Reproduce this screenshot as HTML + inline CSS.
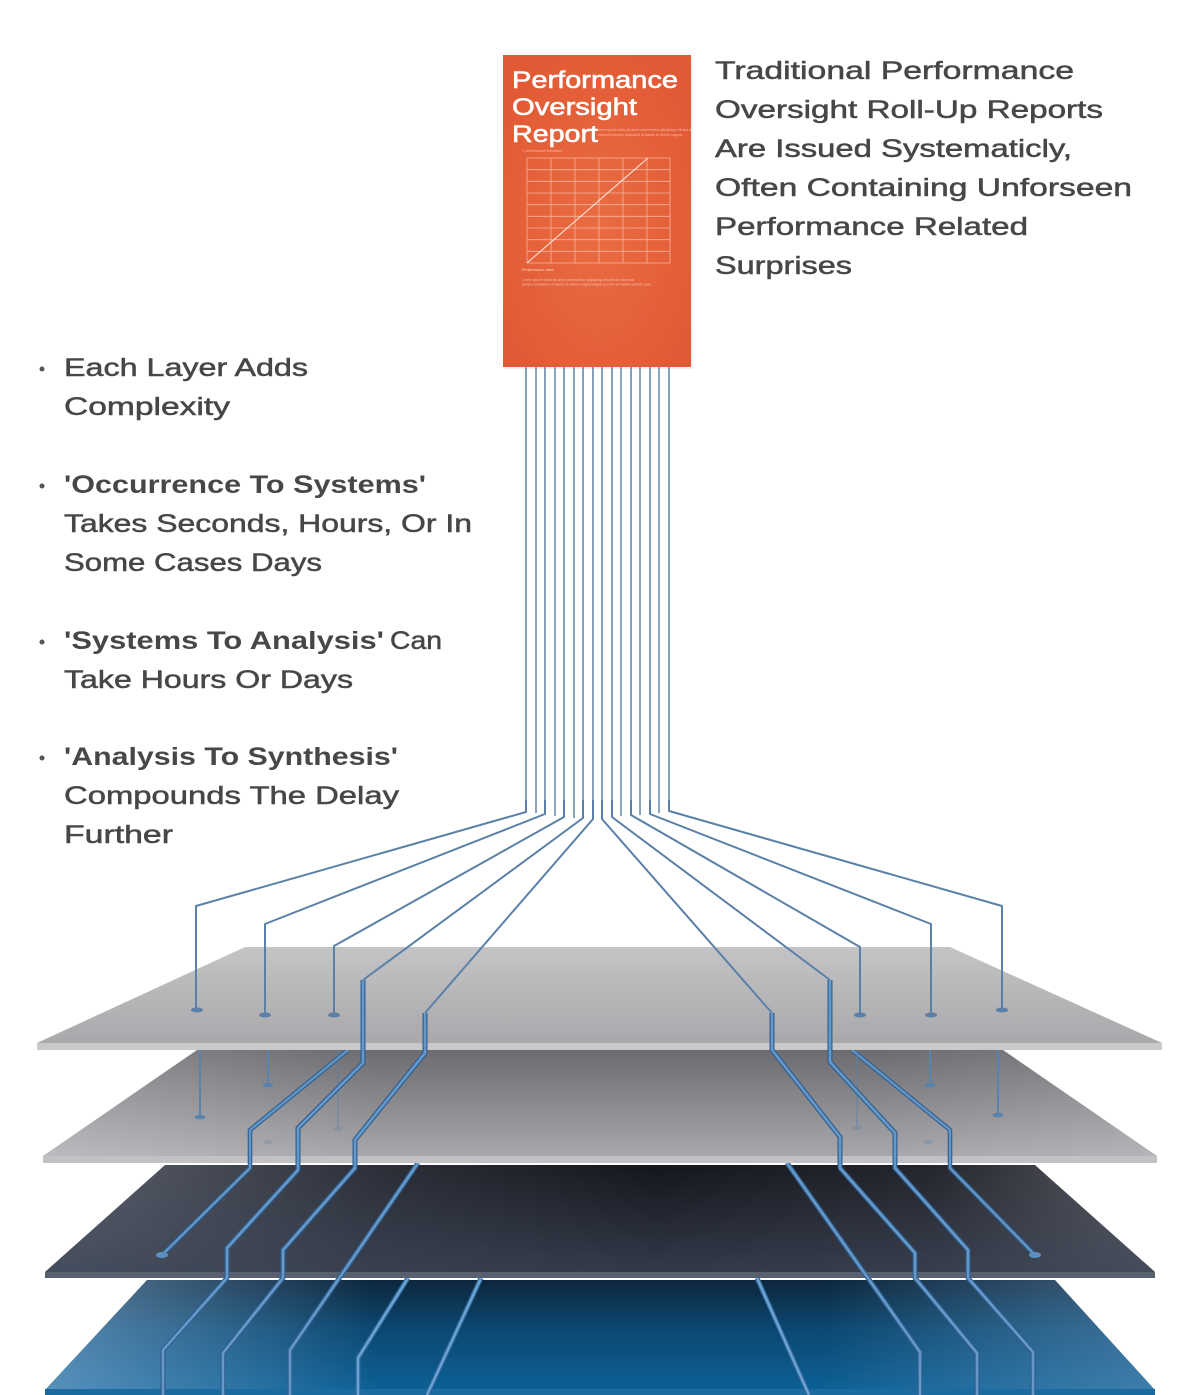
<!DOCTYPE html>
<html><head><meta charset="utf-8"><style>
html,body{margin:0;padding:0;background:#fff;}
svg{display:block;}
.t{font-family:"Liberation Sans",sans-serif;font-size:25px;fill:#474747;stroke:#474747;stroke-width:0.5px;}
.b{font-family:"Liberation Sans",sans-serif;font-size:25px;font-weight:bold;fill:#474747;}
.tiny{font-family:"Liberation Sans",sans-serif;font-size:3.6px;fill:#fff;opacity:.55;}
</style></head><body>
<svg width="1200" height="1395" viewBox="0 0 1200 1395" xmlns="http://www.w3.org/2000/svg">
<defs>
 <linearGradient id="p1" x1="0" y1="0" x2="0" y2="1"><stop offset="0" stop-color="#c4c4c6"/><stop offset="1" stop-color="#a9a9ac"/></linearGradient>
 <linearGradient id="p2" x1="0" y1="0" x2="0" y2="1"><stop offset="0" stop-color="#6c6c70"/><stop offset="1" stop-color="#a8a8ac"/></linearGradient>
 <linearGradient id="p2h" x1="0" y1="0" x2="1" y2="0"><stop offset="0" stop-color="#fff" stop-opacity=".22"/><stop offset=".3" stop-color="#fff" stop-opacity="0"/><stop offset=".75" stop-color="#fff" stop-opacity="0"/><stop offset="1" stop-color="#fff" stop-opacity=".15"/></linearGradient>
 <linearGradient id="p3" x1="0" y1="0" x2="1" y2="0"><stop offset="0" stop-color="#5e636f"/><stop offset=".3" stop-color="#2c2f38"/><stop offset=".55" stop-color="#15161c"/><stop offset=".8" stop-color="#25262d"/><stop offset="1" stop-color="#5d5d63"/></linearGradient>
 <linearGradient id="p3v" x1="0" y1="0" x2="0" y2="1"><stop offset="0" stop-color="#3c4658" stop-opacity="0"/><stop offset="1" stop-color="#3c4658" stop-opacity=".75"/></linearGradient>
 <linearGradient id="p4" x1="0" y1="0" x2="0" y2="1"><stop offset="0" stop-color="#0d263d"/><stop offset=".45" stop-color="#0b4871"/><stop offset="1" stop-color="#0c6096"/></linearGradient>
 <linearGradient id="p4h" x1="0" y1="0" x2="1" y2="0"><stop offset="0" stop-color="#8ab2d6" stop-opacity=".6"/><stop offset=".3" stop-color="#8ab2d6" stop-opacity="0"/><stop offset=".7" stop-color="#8ab2d6" stop-opacity="0"/><stop offset="1" stop-color="#7aa2c8" stop-opacity=".45"/></linearGradient>
 <radialGradient id="rep" cx=".5" cy=".55" r=".6"><stop offset="0" stop-color="#ea6c42"/><stop offset="1" stop-color="#e25a35"/></radialGradient>
</defs>
<rect width="1200" height="1395" fill="#fff"/>

<!-- Right text -->
<text class="t" x="715" y="79" textLength="359" lengthAdjust="spacingAndGlyphs">Traditional Performance</text>
<text class="t" x="715" y="118" textLength="388" lengthAdjust="spacingAndGlyphs">Oversight Roll-Up Reports</text>
<text class="t" x="715" y="157" textLength="357" lengthAdjust="spacingAndGlyphs">Are Issued Systematicly,</text>
<text class="t" x="715" y="196" textLength="417" lengthAdjust="spacingAndGlyphs">Often Containing Unforseen</text>
<text class="t" x="715" y="235" textLength="313" lengthAdjust="spacingAndGlyphs">Performance Related</text>
<text class="t" x="715" y="274" textLength="137" lengthAdjust="spacingAndGlyphs">Surprises</text>

<!-- Left bullets -->
<g fill="#555"><circle cx="42" cy="369" r="2.5"/><circle cx="42" cy="486" r="2.5"/><circle cx="42" cy="642" r="2.5"/><circle cx="42" cy="758" r="2.5"/></g>
<text class="t" x="64" y="376" textLength="244" lengthAdjust="spacingAndGlyphs">Each Layer Adds</text>
<text class="t" x="64" y="415" textLength="166" lengthAdjust="spacingAndGlyphs">Complexity</text>
<text class="b" x="64" y="493" textLength="362" lengthAdjust="spacingAndGlyphs">'Occurrence To Systems'</text>
<text class="t" x="64" y="532" textLength="408" lengthAdjust="spacingAndGlyphs">Takes Seconds, Hours, Or In</text>
<text class="t" x="64" y="571" textLength="258" lengthAdjust="spacingAndGlyphs">Some Cases Days</text>
<text class="b" x="64" y="649" textLength="320" lengthAdjust="spacingAndGlyphs">'Systems To Analysis'</text>
<text class="t" x="390" y="649" textLength="52" lengthAdjust="spacingAndGlyphs">Can</text>
<text class="t" x="64" y="688" textLength="289" lengthAdjust="spacingAndGlyphs">Take Hours Or Days</text>
<text class="b" x="64" y="765" textLength="334" lengthAdjust="spacingAndGlyphs">'Analysis To Synthesis'</text>
<text class="t" x="64" y="804" textLength="335" lengthAdjust="spacingAndGlyphs">Compounds The Delay</text>
<text class="t" x="64" y="843" textLength="109" lengthAdjust="spacingAndGlyphs">Further</text>

<!-- Report -->
<rect x="505" y="57" width="188" height="312" fill="#000" opacity=".06"/>
<rect x="503" y="55" width="188" height="312" fill="url(#rep)"/>
<g stroke="#fff" stroke-width=".8" opacity=".5" fill="none">
 <rect x="527" y="158" width="143" height="105"/>
 <path d="M551 158V263M575 158V263M599 158V263M623 158V263M647 158V263"/>
 <path d="M527 169.7H670M527 181.3H670M527 193H670M527 204.7H670M527 216.3H670M527 228H670M527 239.7H670M527 251.3H670"/>
</g>
<path d="M527 263L648 158" stroke="#fff" stroke-width="1.1" opacity=".8"/>
<text class="tiny" x="596" y="131">Lorem ipsum dolor sit amet consectetur adipiscing elit sed do</text>
<text class="tiny" x="598" y="136">eiusmod tempor incididunt ut labore et dolore magna</text>
<text class="tiny" x="522" y="152">Y  performance indicators</text>
<text class="tiny" x="522" y="271" style="font-weight:bold">Performance value</text>
<text class="tiny" x="522" y="281">Lorem ipsum dolor sit amet consectetur adipiscing elit sed do eiusmod</text>
<text class="tiny" x="522" y="285.5">tempor incididunt ut labore et dolore magna aliqua ut enim ad minim veniam quis</text>
<text x="512" y="88" font-family="Liberation Sans, sans-serif" font-size="24" fill="#fff" stroke="#fff" stroke-width=".6" textLength="166" lengthAdjust="spacingAndGlyphs">Performance</text>
<text x="512" y="115" font-family="Liberation Sans, sans-serif" font-size="24" fill="#fff" stroke="#fff" stroke-width=".6" textLength="125" lengthAdjust="spacingAndGlyphs">Oversight</text>
<text x="512" y="142" font-family="Liberation Sans, sans-serif" font-size="24" fill="#fff" stroke="#fff" stroke-width=".6" textLength="86" lengthAdjust="spacingAndGlyphs">Report</text>

<!-- Report verticals -->
<g stroke="#8aa3be" stroke-width="2" fill="none">
 <path d="M536 367V813M555 367V816M574 367V818M621 367V816M640 367V815M659 367V813"/>
</g>

<!-- Plate 4 -->
<polygon points="147,1280 1055,1280 1155,1390 45,1390" fill="url(#p4)"/>
<polygon points="147,1280 1055,1280 1155,1390 45,1390" fill="url(#p4h)"/>
<rect x="45" y="1389" width="1110" height="6" fill="#1b6aa0"/>
<g fill="none" stroke-linejoin="round">
 <path d="M408 1278L358 1358V1395M481 1278L427 1395M757 1278L809 1395" stroke="#2f6596" stroke-width="5"/>
 <path d="M408 1278L358 1358V1395M481 1278L427 1395M757 1278L809 1395" stroke="#6aa2d4" stroke-width="2.6"/>
</g>

<!-- Plate 3 -->
<polygon points="165,1165 1035,1165 1155,1272 45,1272" fill="url(#p3)"/>
<polygon points="165,1165 1035,1165 1155,1272 45,1272" fill="url(#p3v)"/>
<rect x="45" y="1272" width="1110" height="6" fill="#586070"/>
<g fill="none" stroke-linejoin="round">
 <path d="M418 1163L290 1350V1395M787 1163L920 1352V1395" stroke="#2f6090" stroke-width="5"/>
 <path d="M418 1163L290 1350V1395M787 1163L920 1352V1395" stroke="#6598c8" stroke-width="2.6"/>
</g>

<!-- Plate 2 -->
<polygon points="197,1050 1003,1050 1157,1156 43,1156" fill="url(#p2)"/>
<polygon points="197,1050 1003,1050 1157,1156 43,1156" fill="url(#p2h)"/>
<rect x="43" y="1156" width="1114" height="7" fill="#c2c2c6"/>
<g fill="none" stroke-linejoin="round">
 <path d="M348 1050L250 1130V1168L162 1255M852 1050L950 1130V1168L1035 1255" stroke="#305f8e" stroke-width="4.6"/>
 <path d="M348 1050L250 1130V1168L162 1255M852 1050L950 1130V1168L1035 1255" stroke="#6396c6" stroke-width="2.3"/>
</g>
<ellipse cx="162" cy="1255" rx="6" ry="3" fill="#5d8fc0"/>
<ellipse cx="1035" cy="1255" rx="6" ry="3" fill="#5d8fc0"/>
<g stroke="#5a82aa" stroke-width="2" fill="none">
 <path d="M200 1048V1116M268 1048V1084M930 1048V1084M998 1048V1114"/>
 <path d="M338 1048V1128M857 1048V1127" opacity=".4"/>
</g>
<g fill="#5a82aa">
 <ellipse cx="200" cy="1117" rx="5.5" ry="2.3"/><ellipse cx="268" cy="1085" rx="5.5" ry="2.3"/>
 <ellipse cx="930" cy="1085" rx="5.5" ry="2.3"/><ellipse cx="998" cy="1115" rx="5.5" ry="2.3"/>
 <ellipse cx="338" cy="1129" rx="5" ry="2" opacity=".35"/><ellipse cx="857" cy="1128" rx="5" ry="2" opacity=".35"/>
 <ellipse cx="268" cy="1142" rx="5" ry="2" opacity=".3"/><ellipse cx="928" cy="1142" rx="5" ry="2" opacity=".3"/>
</g>

<!-- Plate 1 -->
<polygon points="245,947 950,947 1162,1043 37,1043" fill="url(#p1)"/>
<rect x="37" y="1043" width="1125" height="7" fill="#c9c9cc"/>

<!-- Upper thin wires -->
<g stroke="#5a80a8" stroke-width="2" fill="none" stroke-linejoin="round">
 <path d="M526 367V812L196 906V1008"/>
 <path d="M545 367V814L265 924V1013"/>
 <path d="M564 367V817L334 946V1013"/>
 <path d="M631 367V815L860 947V1013"/>
 <path d="M650 367V814L931 924V1013"/>
 <path d="M669 367V811L1002 906V1008"/>
 <path d="M583 367V818L363 980"/>
 <path d="M593 367V819L425 1013"/>
 <path d="M602 367V819L772 1013"/>
 <path d="M612 367V817L830 980"/>
</g>
<g stroke="#8aa3be" stroke-width="1.8" fill="none">
 <path d="M526 367V800M545 367V800M564 367V800M583 367V800M593 367V800M602 367V800M612 367V800M631 367V800M650 367V800M669 367V800"/>
</g>
<g fill="#5a80a8">
 <ellipse cx="197" cy="1010" rx="6" ry="2.5"/><ellipse cx="265" cy="1015" rx="6" ry="2.5"/><ellipse cx="334" cy="1015" rx="6" ry="2.5"/>
 <ellipse cx="860" cy="1015" rx="6" ry="2.5"/><ellipse cx="931" cy="1015" rx="6" ry="2.5"/><ellipse cx="1002" cy="1010" rx="6" ry="2.5"/>
</g>

<!-- Thick main wires -->
<g fill="none" stroke-linejoin="round">
 <path d="M363 980V1063L298 1128V1170L227 1248V1278L163 1350V1395M425 1013V1053L355 1140V1168L283 1250V1278L223 1353V1395M772 1013V1050L840 1137V1168L915 1253V1278L977 1353V1395M830 980V1062L895 1133V1168L968 1250V1278L1033 1352V1395" stroke="#2f5f8f" stroke-width="5"/>
 <path d="M363 980V1063L298 1128V1170L227 1248V1278L163 1350V1395M425 1013V1053L355 1140V1168L283 1250V1278L223 1353V1395M772 1013V1050L840 1137V1168L915 1253V1278L977 1353V1395M830 980V1062L895 1133V1168L968 1250V1278L1033 1352V1395" stroke="#6699ca" stroke-width="2.6"/>
</g>
</svg>
</body></html>
